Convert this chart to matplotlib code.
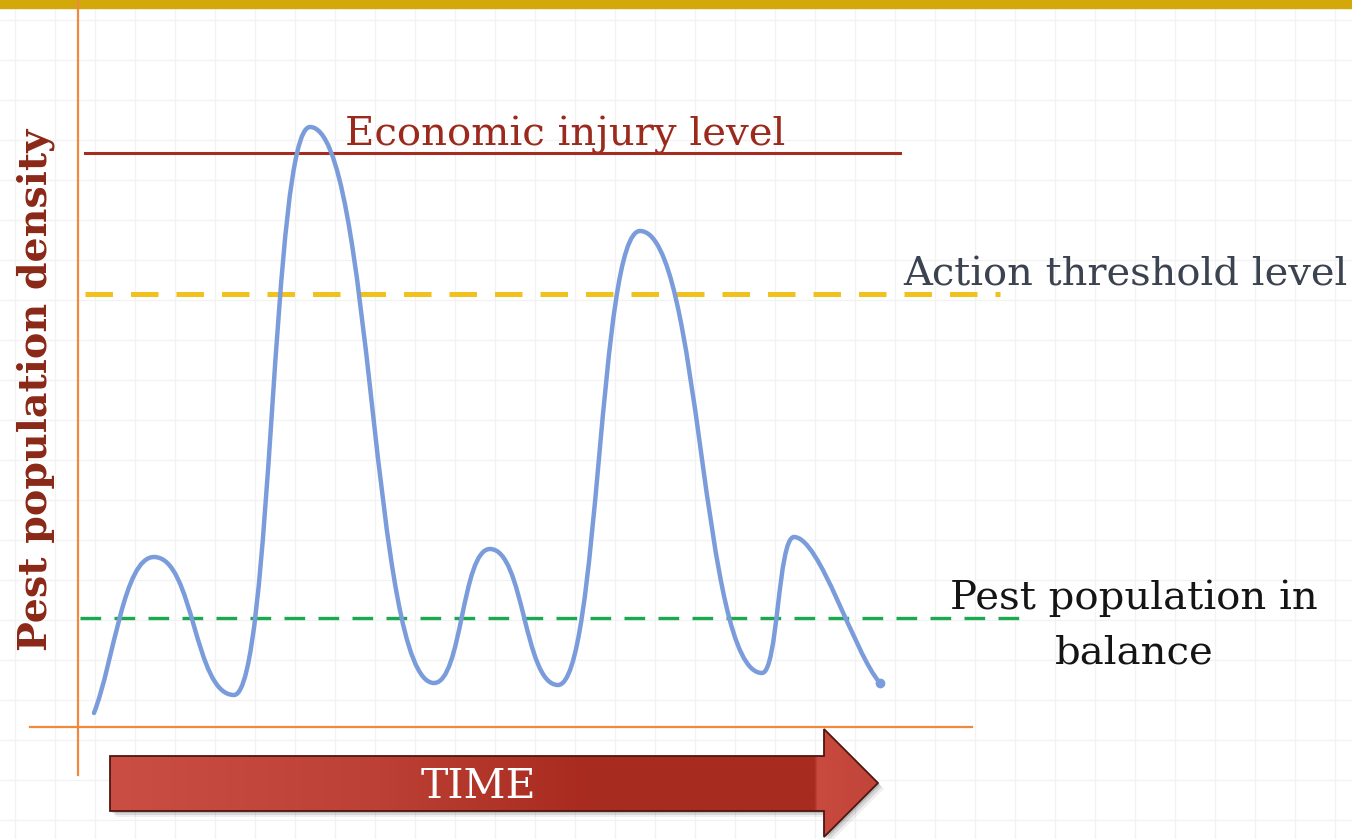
import matplotlib
matplotlib.use("Agg")
import matplotlib.pyplot as plt
import numpy as np
from matplotlib.path import Path
from matplotlib.patches import PathPatch, Polygon, Rectangle
from matplotlib.colors import LinearSegmentedColormap

plt.rcParams["font.family"] = ["DejaVu Serif"]

# --- data (time steps, pest density; 1 unit = one grid cell) -------------
time = [0.4, 1.9, 3.9, 5.8, 8.9, 10.3, 12.0, 14.05, 17.1, 17.9, 20.05]
density = [0.35, 4.25, 0.8, 15.0, 1.1, 4.45, 1.05, 12.4, 1.35, 4.75, 1.1]

levels = {
    "Economic injury level": 14.35,
    "Action threshold level": 10.83,
    "Pest population in\nbalance": 2.72,
}
level_spans = [(0.18, 20.55), (0.18, 23.05), (0.05, 23.7)]

W, H = 1352, 839
X0, Y0, CELL = 78, 727, 40  # pixel position of the axis crossing, cell size

fig = plt.figure(figsize=(W / 100, H / 100), dpi=100)
fig.patch.set_facecolor("white")

# background / decoration layer in pixel coordinates
deco = fig.add_axes([0, 0, 1, 1], zorder=0)
deco.set_xlim(0, W)
deco.set_ylim(H, 0)
deco.axis("off")
for gx in np.arange(15, W, CELL):
    deco.axvline(gx, color="#f2f2f2", lw=0.9, zorder=0)
for gy in np.arange(20, H, CELL):
    deco.axhline(gy, color="#f2f2f2", lw=0.9, zorder=0)
deco.add_patch(Rectangle((0, 0), W, 8, color="#d3a80b", zorder=5))

# data layer
ax = fig.add_axes([0, 0, 1, 1], zorder=2)
ax.patch.set_alpha(0)
ax.axis("off")
ax.set_xlim(-X0 / CELL, (W - X0) / CELL)
ax.set_ylim((Y0 - H) / CELL, Y0 / CELL)

# axis cross
ax.plot([0, 0], [-1.2, Y0 / CELL], color="#ef8a3d", lw=1.6, zorder=1)
ax.plot([-1.2, 22.35], [0, 0], color="#ef8a3d", lw=1.6, zorder=1)

# level lines
vals = list(levels.values())
ax.plot(level_spans[0], [vals[0]] * 2, color="#a52c20", lw=2.2, zorder=2)
ax.plot(level_spans[1], [vals[1]] * 2, color="#f1c11e", lw=3.6,
        dashes=(5.5, 3.6), zorder=2)
ax.plot(level_spans[2], [vals[2]] * 2, color="#1ca84f", lw=2.4,
        dashes=(6.2, 4.0), zorder=2)

# smooth population curve: horizontal tangents at every turning point
verts = [(time[0], density[0])]
codes = [Path.MOVETO]
n = len(time)
for i in range(1, n):
    xa, ya, xb, yb = time[i - 1], density[i - 1], time[i], density[i]
    dx = xb - xa
    if i == 1:
        c1 = (xa + dx / 3, ya + (yb - ya) / 3)
    elif i == n - 1:
        c1 = (xa + 0.3 * dx, ya)
    else:
        c1 = (xa + 0.5 * dx, ya)
    if i == n - 1:
        c2 = (xb - 0.3 * dx, yb + 0.2 * (ya - yb))
    else:
        c2 = (xb - 0.5 * dx, yb)
    verts += [c1, c2, (xb, yb)]
    codes += [Path.CURVE4] * 3
ax.add_patch(PathPatch(Path(verts, codes), fill=False, edgecolor="#7b9cdb",
                       lw=3.2, capstyle="round", zorder=3))
ax.plot(time[-1], density[-1], "o", color="#7b9cdb", ms=6, zorder=3)

# labels
deco.text(345, 145, "Economic injury level", color="#9b2a1d", fontsize=29,
          va="baseline", ha="left", zorder=4)
deco.text(903, 285, "Action threshold level", color="#3c4350", fontsize=28.8,
          va="baseline", ha="left", zorder=4)
deco.text(1134, 609, "Pest population in", color="#141414", fontsize=29,
          va="baseline", ha="center", zorder=4)
deco.text(1134, 664, "balance", color="#141414", fontsize=29,
          va="baseline", ha="center", zorder=4)
deco.text(36, 390, "Pest population density", color="#8b2817", fontsize=28.5,
          fontweight="bold", rotation=90, va="center", ha="center", zorder=4)

# TIME arrow with gradient fill and soft shadow
arrow_pts = [(110, 756), (824, 756), (824, 729), (878, 783),
             (824, 837), (824, 811), (110, 811)]
for off, a in [(6, 0.06), (4, 0.10), (2, 0.14)]:
    deco.add_patch(Polygon([(x + off, y + off) for x, y in arrow_pts],
                           closed=True, color="black", alpha=a, lw=0, zorder=5))
arrow = Polygon(arrow_pts, closed=True, facecolor="none",
                edgecolor="#4e1710", lw=1.3, zorder=7)
deco.add_patch(arrow)
grad_cmap = LinearSegmentedColormap.from_list(
    "arrow", [(0.0, "#cb4e45"), (0.35, "#bc4035"), (0.62, "#a92b1f"),
              (0.92, "#a82b20"), (0.925, "#c94a3e"), (1.0, "#c1443a")])
grad = np.linspace(0, 1, 400).reshape(1, -1)
im = deco.imshow(grad, cmap=grad_cmap, extent=(110, 878, 837, 729),
                 aspect="auto", zorder=6)
im.set_clip_path(arrow)
deco.set_xlim(0, W)
deco.set_ylim(H, 0)
deco.text(478, 787, "TIME", color="white", fontsize=29.5, va="center",
          ha="center", zorder=8)

fig.savefig("out.png", dpi=100)
